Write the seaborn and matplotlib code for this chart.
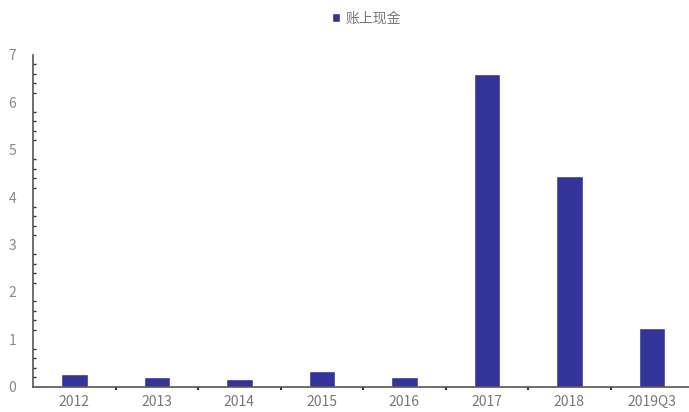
import matplotlib
matplotlib.use("Agg")
import matplotlib.pyplot as plt
from matplotlib.ticker import MultipleLocator, FixedLocator
import seaborn as sns
import pandas as pd

categories = ["2012", "2013", "2014", "2015", "2016", "2017", "2018", "2019Q3"]
cash = [0.27, 0.21, 0.17, 0.34, 0.21, 6.6, 4.45, 1.24]
series_name = "账上现金"

sns.set_theme(style="white")
plt.rcParams["font.family"] = ["Noto Sans CJK SC", "DejaVu Sans"]

df = pd.DataFrame({"period": categories, "value": cash, "series": series_name})

fig = plt.figure(figsize=(6.89, 4.12), dpi=100)
ax = fig.add_axes([0.048, 0.061, 0.958, 0.806])

sns.barplot(data=df, x="period", y="value", hue="series", palette=["#333399"],
            width=0.32, saturation=1, ax=ax, legend=True)

ax.set_xlim(-0.5, 7.5)
ax.set_ylim(0, 7)
ax.yaxis.set_major_locator(MultipleLocator(1))
ax.yaxis.set_minor_locator(MultipleLocator(0.2))
ax.xaxis.set_minor_locator(FixedLocator([i + 0.5 for i in range(len(categories) - 1)]))

for side in ["top", "right"]:
    ax.spines[side].set_visible(False)
for side in ["left", "bottom"]:
    ax.spines[side].set_color("#555555")
    ax.spines[side].set_linewidth(1.2)

ax.tick_params(axis="y", which="major", direction="in", length=4, width=1,
               color="#333333", labelsize=10, labelcolor="#888888", pad=12)
ax.tick_params(axis="y", which="minor", direction="in", length=2.5, width=1,
               color="#333333", left=True)
ax.tick_params(axis="x", which="major", length=0, labelsize=10,
               labelcolor="#777777", pad=6)
ax.tick_params(axis="x", which="minor", direction="out", length=2.5, width=1.5,
               color="#333333", bottom=True)
ax.set_xlabel("")
ax.set_ylabel("")

leg = ax.legend(loc="center", bbox_to_anchor=(0.505, 1.11), frameon=False,
                fontsize=10, handlelength=0.6, handleheight=0.6, handletextpad=0.4)
for t in leg.get_texts():
    t.set_color("#777777")

fig.savefig("out.png", dpi=100, facecolor="white")
